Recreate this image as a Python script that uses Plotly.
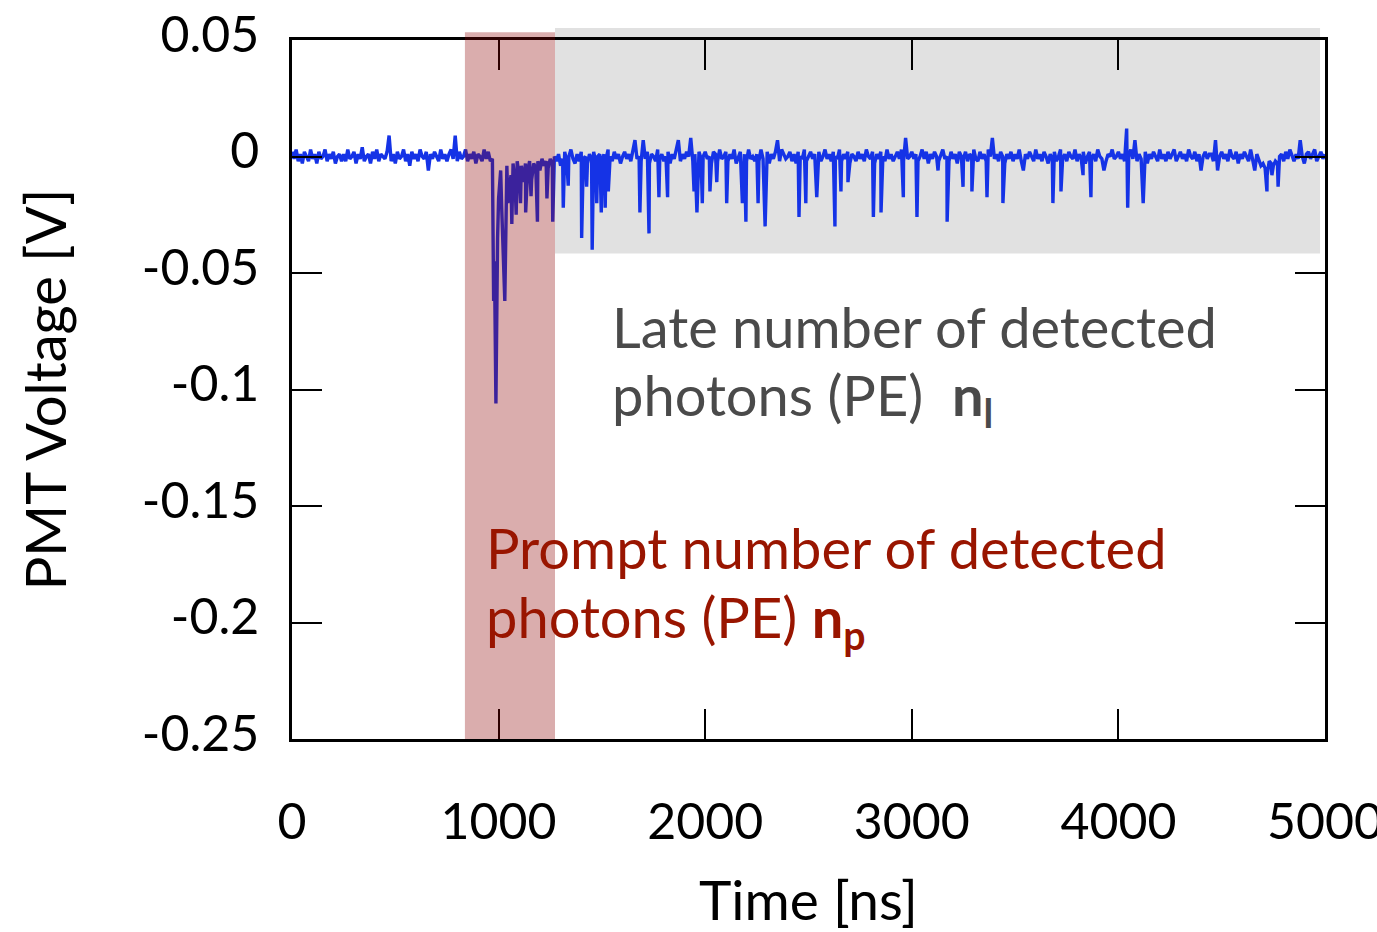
import plotly.graph_objects as go

# PMT waveform: baseline samples every 10 ns (in mV), 0 .. 5000 ns
sample_step_ns = 10
baseline_mv = [
    2, -1, 3, -2, 1, -3, 2, 0, -2, 3, -1, 1, -3, 2, -1, 0, 3, -2, 1, -1, 2, -3, 0, 1, -2,
    1, -2, 3, -1, 0, 2, -3, 1, -1, 4, -2, 0, 1, -3, 2, -1, 3, -2, 1, 0, -1, 2, 9, -2, 1,
    -3, 2, -1, 0, 3, -2, 1, -4, 2, -1, 1, -2, 3, 0, -1, 2, -6, 1, -1, 2, 0, -2, 3, -1, 1,
    -2, 1, 3, -1, 9, -2, 2, -1, 0, 3, -2, 1, -1, 2, -3, 1, 0, -2, 3, -1, 2, -2, -1, -45, -60,
    -18, -6, -40, -62, -4, -15, -8, -3, -12, -2, -9, -4, -11, -3, -7, -2, -10, -3, -5, -2, -6, -1, -4, -2, -5,
    -1, -3, 0, -2, 1, -4, -1, 2, -2, 0, 3, -1, -3, 1, -2, 2, -1, 0, -3, 1, -1, 2, -2, 0, 1,
    -2, 1, -1, 3, 0, -2, 2, -1, 1, -3, 0, 2, -1, 1, -2, 3, 7, -1, 0, -2, 7, -1, 2, -3, 1,
    0, -2, 3, -1, 1, -2, 0, 2, -3, 1, -1, 3, 7, -2, 1, -1, 2, 0, 8, -2, 1, -3, 2, -1, 0,
    2, -1, 0, -3, 2, 1, -2, 3, -1, 0, 2, -2, 1, -1, 3, -3, 0, 2, -1, 1, -2, 3, -1, 0, -2,
    1, -2, 3, -1, 0, 2, -3, 1, -1, 2, 7, -2, 3, 1, -1, 0, 2, -2, 1, -3, 2, 0, -1, 3, -2,
    0, 2, -1, 1, -3, 2, -2, 0, 3, -1, 1, -2, 2, 0, -1, 3, -2, 1, -1, 2, -3, 1, 0, -2, 2,
    -1, 1, -2, 3, 0, -1, 2, -3, 1, -1, 2, 0, -2, 3, -1, 1, -2, 0, 2, -1, 3, -2, 8, -1, 0,
    2, -1, 1, -2, 0, 3, -1, 2, -3, 1, -1, 2, 0, -2, 1, 3, -1, 0, -2, 2, -1, 1, -3, 2, 0,
    -1, 2, -2, 1, 0, 3, -1, -2, 2, -1, 1, -2, 3, 0, 8, -1, 1, -2, 2, 0, -3, 1, -1, 2, -2,
    1, -1, 3, -2, -6, 1, -1, 2, 0, -2, 3, -1, 1, -2, 2, 0, -3, 1, -1, 2, -2, 0, 3, -1, 1,
    -2, 2, 0, -1, 3, -2, 1, -1, 2, -3, 0, 2, -1, 1, -2, 3, 0, -1, -6, -2, 1, 0, 3, -1, 0,
    2, -1, 1, -2, 12, 0, 3, -1, 7, -2, 1, -1, 0, 2, -3, 1, -1, 2, 0, -2, 3, -1, 1, -2, 2,
    -1, 1, 3, -2, 0, 2, -1, 1, -2, 3, 0, -1, 2, -2, 1, -6, 0, 2, -1, 1, 1, -2, 7, -6, 0,
    2, -1, 1, -2, 3, 0, -1, 2, -3, 1, -1, 2, 0, -2, 3, -1, -6, 1, -2, -4, -3, -5, -8, -2, -3,
    -4, -2, -3, 0, 1, -2, 2, -1, 3, 0, -2, 1, -1, 7, 0, -3, 1, 2, -1, 1, 3, -2, 0, 2, -1,
    1,
]

# Single-photon pulses and the prompt burst (time in ns, peak voltage in V)
pulse_time_ns = [
    976, 987, 995, 1015, 1024, 1045, 1064, 1085, 1106, 1131, 1157, 1188, 1234, 1262,
    1313, 1337, 1402, 1426, 1453, 1475, 1497, 1516, 1531, 1684, 1728, 1776, 1818,
    1946, 1960, 1986, 2023, 2056, 2104, 2180, 2197, 2256, 2290, 2454, 2487, 2540,
    2628, 2657, 2691, 2814, 2851, 2959, 3025, 3127, 3171, 3248, 3291, 3364, 3441,
    3683, 3722, 3829, 3867, 4045, 4120, 4719, 4743, 4773,
]
pulse_volt = [
    -0.062, -0.106, -0.035, -0.022, -0.050, -0.020, -0.029, -0.025, -0.020, -0.024, -0.017, -0.028, -0.018, -0.028,
    -0.022, -0.0125, -0.035, -0.013, -0.040, -0.020, -0.024, -0.022, -0.015, -0.024, -0.033, -0.0175, -0.0175,
    -0.015, -0.024, -0.020, -0.015, -0.011, -0.020, -0.020, -0.028, -0.020, -0.030, -0.026, -0.020, -0.0175,
    -0.030, -0.015, -0.011, -0.026, -0.024, -0.0175, -0.026, -0.006, -0.028, -0.013, -0.015, -0.0175, -0.020,
    -0.020, -0.015, -0.008, -0.0175, -0.022, -0.020, -0.015, -0.008, -0.013,
]

# Integration windows (ns) and the lower edge of the late-light box (V)
prompt_window = [837, 1273]
late_window = [1273, 4976]
late_box_bottom = -0.0416

x_ticks = [0, 1000, 2000, 3000, 4000, 5000]
y_ticks = [0.05, 0, -0.05, -0.1, -0.15, -0.2, -0.25]
y_tick_text = ["0.05", "0", "-0.05", "-0.1", "-0.15", "-0.2", "-0.25"]
y_range = [-0.25, 0.05]

# Merge baseline samples with the pulse samples
wave = {i * sample_step_ns: mv / 1000.0 for i, mv in enumerate(baseline_mv)}
for t, v in zip(pulse_time_ns, pulse_volt):
    wave[t] = v
times = sorted(wave)
volts = [wave[t] for t in times]

FONT = "Lato, 'Open Sans', sans-serif"

fig = go.Figure()
fig.add_trace(go.Scatter(
    x=times, y=volts, mode="lines",
    line=dict(color="#1533e6", width=3.4),
    showlegend=False, hoverinfo="skip",
))


def to_paper(v):
    return (v - y_range[0]) / (y_range[1] - y_range[0])


fig.add_shape(type="rect", xref="x", yref="paper",
              x0=late_window[0], x1=late_window[1],
              y0=to_paper(late_box_bottom), y1=1.017,
              fillcolor="#e1e1e1", line=dict(width=0), layer="below")
fig.add_shape(type="rect", xref="x", yref="paper",
              x0=prompt_window[0], x1=prompt_window[1],
              y0=0, y1=1.011,
              fillcolor="rgba(140,0,0,0.32)", line=dict(width=0), layer="above")

late_color = "#4a4a4a"
prompt_color = "#991500"
for text, y in [("Late number of detected", -0.0730),
                ("photons (PE)  <b>n</b><sub><b>l</b></sub>", -0.1040)]:
    fig.add_annotation(x=1540, y=y, xref="x", yref="y", text=text,
                       showarrow=False, xanchor="left", yanchor="middle",
                       font=dict(family=FONT, size=56, color=late_color))
for text, y in [("Prompt number of detected", -0.168),
                ("photons (PE) <b>n</b><sub><b>p</b></sub>", -0.199)]:
    fig.add_annotation(x=930, y=y, xref="x", yref="y", text=text,
                       showarrow=False, xanchor="left", yanchor="middle",
                       font=dict(family=FONT, size=56, color=prompt_color))

axis_common = dict(
    showline=True, linecolor="black", linewidth=2.5, mirror="ticks",
    ticks="inside", ticklen=30, tickwidth=2, tickcolor="black",
    showgrid=False, zeroline=False, ticklabeloverflow="allow",
    tickfont=dict(family=FONT, size=50, color="black"),
)

fig.update_xaxes(range=[0, 5000], tickvals=x_ticks,
                 ticktext=[str(v) for v in x_ticks],
                 ticklabelstandoff=37,
                 title=dict(text="Time [ns]", standoff=34,
                            font=dict(family=FONT, size=55, color="black")),
                 **axis_common)
fig.update_yaxes(range=y_range, tickvals=y_ticks, ticktext=y_tick_text,
                 ticklabelstandoff=20, ticklabelshift=-6,
                 title=dict(text="PMT Voltage [V]", standoff=58,
                            font=dict(family=FONT, size=56, color="black")),
                 **axis_common)

fig.update_layout(
    width=1377, height=932,
    margin=dict(l=292, r=52, t=40, b=193, autoexpand=False),
    paper_bgcolor="white", plot_bgcolor="white",
)

fig.write_html("out.html")
